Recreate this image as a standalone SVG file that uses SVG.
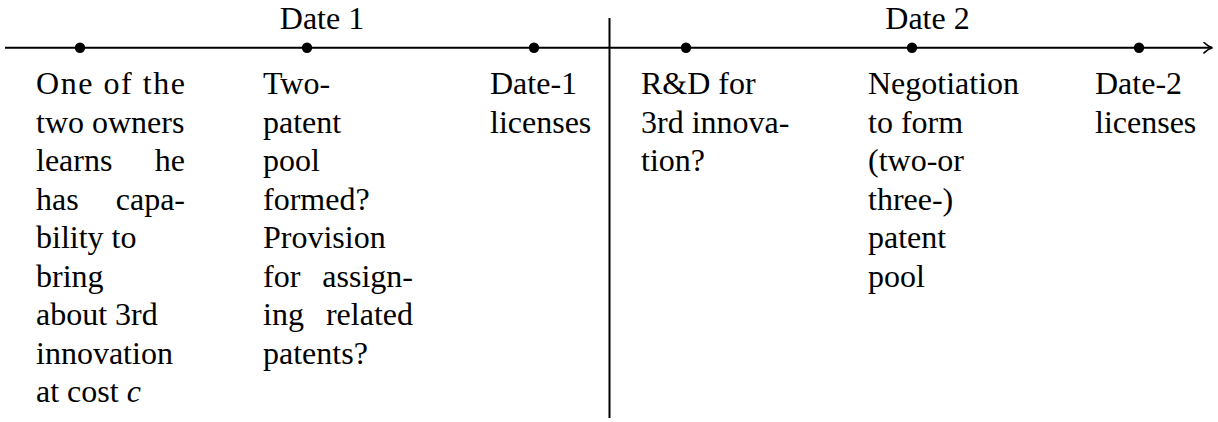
<svg xmlns="http://www.w3.org/2000/svg" width="1218" height="422" viewBox="0 0 1218 422">
<defs>
<marker id="arr" markerWidth="12" markerHeight="12" refX="9" refY="6" orient="auto" markerUnits="userSpaceOnUse">
<path d="M1,0.8 Q5,5 9.5,6 Q5,7 1,11.2" fill="none" stroke="#000" stroke-width="1.6" stroke-linecap="round"/>
</marker>
</defs>
<rect width="1218" height="422" fill="#fff"/>
<g id="connectors" stroke="#000" stroke-width="2" fill="none">
<line x1="5" y1="47.7" x2="1212" y2="47.7" marker-end="url(#arr)"/>
<line x1="609.5" y1="18" x2="609.5" y2="418"/>
</g>
<g id="date-labels">
<text x="322" y="29" text-anchor="middle" font-family="Times New Roman" font-size="32">Date 1</text>
<text x="927.5" y="29" text-anchor="middle" font-family="Times New Roman" font-size="32">Date 2</text>
</g>
<g id="n1">
<circle fill="#000" cx="80" cy="47.7" r="5.2"/>
<text x="36" y="94" textLength="149" lengthAdjust="spacing" font-family="Times New Roman" font-size="32">One of the</text>
<text x="36" y="132.5" font-family="Times New Roman" font-size="32">two owners</text>
<text x="36" y="171" font-family="Times New Roman" font-size="32">learns</text>
<text x="185" y="171" text-anchor="end" font-family="Times New Roman" font-size="32">he</text>
<text x="36" y="209.5" font-family="Times New Roman" font-size="32">has</text>
<text x="185" y="209.5" text-anchor="end" font-family="Times New Roman" font-size="32">capa-</text>
<text x="36" y="248" font-family="Times New Roman" font-size="32">bility to</text>
<text x="36" y="286.5" font-family="Times New Roman" font-size="32">bring</text>
<text x="36" y="325" font-family="Times New Roman" font-size="32">about 3rd</text>
<text x="36" y="363.5" font-family="Times New Roman" font-size="32">innovation</text>
<text x="36" y="402" font-family="Times New Roman" font-size="32">at cost <tspan font-style="italic">c</tspan></text>
</g>
<g id="n2">
<circle fill="#000" cx="307" cy="47.7" r="5.2"/>
<text x="263" y="94" font-family="Times New Roman" font-size="32">Two-</text>
<text x="263" y="132.5" font-family="Times New Roman" font-size="32">patent</text>
<text x="263" y="171" font-family="Times New Roman" font-size="32">pool</text>
<text x="263" y="209.5" font-family="Times New Roman" font-size="32">formed?</text>
<text x="263" y="248" font-family="Times New Roman" font-size="32">Provision</text>
<text x="263" y="286.5" font-family="Times New Roman" font-size="32">for</text>
<text x="413" y="286.5" text-anchor="end" font-family="Times New Roman" font-size="32">assign-</text>
<text x="263" y="325" font-family="Times New Roman" font-size="32">ing</text>
<text x="413" y="325" text-anchor="end" font-family="Times New Roman" font-size="32">related</text>
<text x="263" y="363.5" font-family="Times New Roman" font-size="32">patents?</text>
</g>
<g id="n3">
<circle fill="#000" cx="534" cy="47.7" r="5.2"/>
<text x="490" y="94" font-family="Times New Roman" font-size="32">Date-1</text>
<text x="490" y="132.5" font-family="Times New Roman" font-size="32">licenses</text>
</g>
<g id="n4">
<circle fill="#000" cx="686" cy="47.7" r="5.2"/>
<text x="641" y="94" font-family="Times New Roman" font-size="32">R&amp;D for</text>
<text x="641" y="132.5" font-family="Times New Roman" font-size="32">3rd innova-</text>
<text x="641" y="171" font-family="Times New Roman" font-size="32">tion?</text>
</g>
<g id="n5">
<circle fill="#000" cx="912" cy="47.7" r="5.2"/>
<text x="868" y="94" font-family="Times New Roman" font-size="32">Negotiation</text>
<text x="868" y="132.5" font-family="Times New Roman" font-size="32">to form</text>
<text x="868" y="171" font-family="Times New Roman" font-size="32">(two-or</text>
<text x="868" y="209.5" font-family="Times New Roman" font-size="32">three-)</text>
<text x="868" y="248" font-family="Times New Roman" font-size="32">patent</text>
<text x="868" y="286.5" font-family="Times New Roman" font-size="32">pool</text>
</g>
<g id="n6">
<circle fill="#000" cx="1139" cy="47.7" r="5.2"/>
<text x="1095" y="94" font-family="Times New Roman" font-size="32">Date-2</text>
<text x="1095" y="132.5" font-family="Times New Roman" font-size="32">licenses</text>
</g>
</svg>
